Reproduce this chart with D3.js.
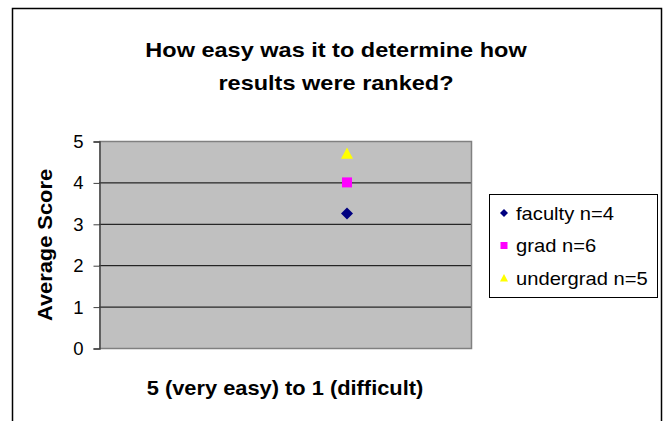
<!DOCTYPE html>
<html>
<head>
<meta charset="utf-8">
<script src="https://cdn.jsdelivr.net/npm/d3@7"></script>
<style>
  body { margin: 0; background: #fff; }
  text { font-family: Arial, "Liberation Sans", sans-serif; }
</style>
</head>
<body>
<svg width="669" height="421"></svg>
<script>
var seriesNames = ["faculty n=4", "grad n=6", "undergrad n=5"];
var seriesValues = [3.25, 4.0, 4.7];
var seriesColors = ["#000080", "#FF00FF", "#FFFF00"];
var seriesShapes = ["diamond", "square", "triangle"];
var xValue = 1;
var yTicks = [0, 1, 2, 3, 4, 5];
var titleLines = ["How easy was it to determine how", "results were ranked?"];

var svg = d3.select("svg");
var SX = 1.12; // text in the original is a bit stretched sideways

function marker(shape, s) {
  // s = half size
  if (shape == "diamond") return "M0," + (-s) + "L" + s + ",0L0," + s + "L" + (-s) + ",0Z";
  if (shape == "square") return "M" + (-s) + "," + (-s) + "H" + s + "V" + s + "H" + (-s) + "Z";
  return "M0," + (-s) + "L" + s + "," + (s * 0.9) + "H" + (-s) + "Z";
}

// outer chart frame
svg.append("rect")
  .attr("x", 12.5).attr("y", 8.5)
  .attr("width", 649).attr("height", 430)
  .attr("fill", "#fff").attr("stroke", "#000").attr("stroke-width", 1.5);

var plot = {left: 99, top: 141, right: 471, bottom: 348};

var x = d3.scaleLinear().domain([0, 1.5]).range([plot.left, plot.right]);
var y = d3.scaleLinear().domain([0, 5]).range([plot.bottom, plot.top]);

svg.append("rect")
  .attr("x", plot.left).attr("y", plot.top)
  .attr("width", plot.right - plot.left).attr("height", plot.bottom - plot.top)
  .attr("fill", "#C0C0C0");

// gridlines
svg.append("g").selectAll("line")
  .data(yTicks.slice(1, -1))
  .enter().append("line")
  .attr("x1", plot.left).attr("x2", plot.right)
  .attr("y1", function(d) { return y(d) + 0.5; })
  .attr("y2", function(d) { return y(d) + 0.5; })
  .attr("stroke", "#000").attr("stroke-width", 1);

// plot border (gray top/right/bottom)
svg.append("path")
  .attr("d", "M" + plot.left + "," + (plot.top + 0.5) + "H" + (plot.right + 0.5) + "V" + (plot.bottom + 0.5) + "H" + plot.left)
  .attr("fill", "none").attr("stroke", "#808080").attr("stroke-width", 1.5);

// y axis
var yAxis = svg.append("g")
  .attr("transform", "translate(" + (plot.left + 0.5) + ",0.5)")
  .call(d3.axisLeft(y).tickValues(yTicks).tickSize(6).tickPadding(10).tickFormat(d3.format("d")));
yAxis.select(".domain").attr("stroke", "#404040").attr("stroke-width", 1.5);
yAxis.selectAll(".tick line").attr("stroke", "#404040");
yAxis.selectAll(".tick text")
  .attr("font-size", 18.5).attr("fill", "#000")
  .style("font-family", "Arial, 'Liberation Sans', sans-serif");

// points
svg.append("g").selectAll("path")
  .data(seriesValues)
  .enter().append("path")
  .attr("d", function(d, i) { return marker(seriesShapes[i], i == 1 ? 5 : 6); })
  .attr("transform", function(d, i) { return "translate(" + x(xValue) + "," + y(d) + ")"; })
  .attr("fill", function(d, i) { return seriesColors[i]; });

// title
svg.append("g").selectAll("text")
  .data(titleLines).enter().append("text")
  .attr("transform", function(d, i) { return "translate(336," + (57 + i * 33) + ") scale(" + SX + ",1)"; })
  .attr("text-anchor", "middle")
  .attr("font-size", 21).attr("font-weight", "bold")
  .text(function(d) { return d; });

// axis titles
svg.append("text")
  .attr("transform", "translate(52,245) rotate(-90) scale(" + SX + ",1)")
  .attr("text-anchor", "middle")
  .attr("font-size", 19.5).attr("font-weight", "bold")
  .text("Average Score");

svg.append("text")
  .attr("transform", "translate(" + (plot.left + plot.right) / 2 + ",395) scale(" + SX + ",1)")
  .attr("text-anchor", "middle")
  .attr("font-size", 19.5).attr("font-weight", "bold")
  .text("5 (very easy) to 1 (difficult)");

// legend
var legend = svg.append("g");
legend.append("rect")
  .attr("x", 489.5).attr("y", 194.5).attr("width", 168).attr("height", 103)
  .attr("fill", "#fff").attr("stroke", "#000").attr("stroke-width", 1);

var rows = legend.selectAll("g.row")
  .data(seriesNames)
  .enter().append("g")
  .attr("transform", function(d, i) { return "translate(0," + (213 + i * 32.5) + ")"; });

rows.append("path")
  .attr("d", function(d, i) { return marker(seriesShapes[i], i == 1 ? 3.5 : 4); })
  .attr("transform", "translate(504,0)")
  .attr("fill", function(d, i) { return seriesColors[i]; });

rows.append("text")
  .attr("transform", "translate(516,6.5) scale(" + SX + ",1)")
  .attr("font-size", 18)
  .text(function(d) { return d; });
</script>
</body>
</html>
